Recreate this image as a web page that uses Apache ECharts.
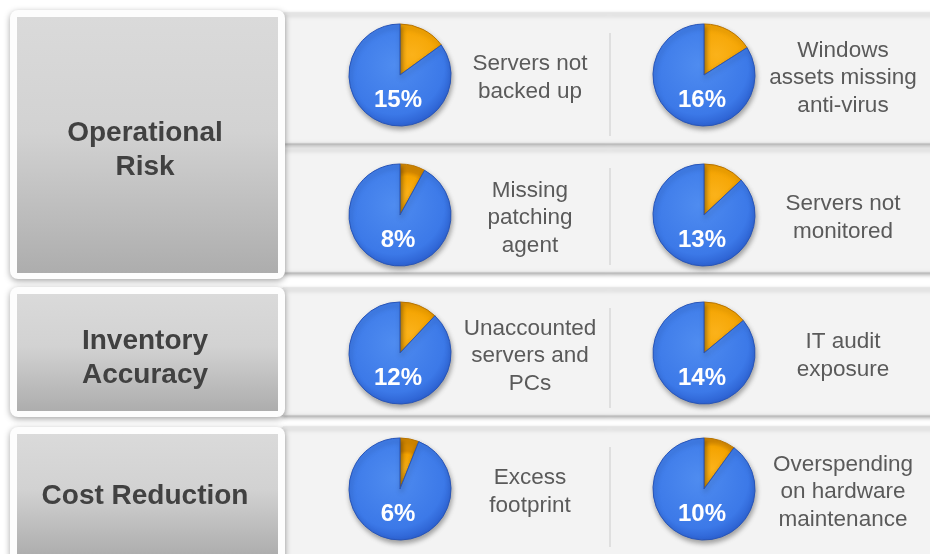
<!DOCTYPE html>
<html>
<head>
<meta charset="utf-8">
<style>
  html, body { margin: 0; padding: 0; background: #fff; }
  #chart { width: 930px; height: 554px; }
</style>
<script src="https://cdn.jsdelivr.net/npm/echarts@6/dist/echarts.min.js"></script>
</head>
<body>
<div id="chart"></div>
<script>
// data
const groups = ['Operational\nRisk', 'Inventory\nAccuracy', 'Cost Reduction'];
const metrics = [
    'Servers not\nbacked up', 'Windows\nassets missing\nanti-virus',
    'Missing\npatching\nagent', 'Servers not\nmonitored',
    'Unaccounted\nservers and\nPCs', 'IT audit\nexposure',
    'Excess\nfootprint', 'Overspending\non hardware\nmaintenance'
];
const shares = [15, 16, 8, 13, 12, 14, 6, 10];

(function () {
    let chart = echarts.init(document.querySelector('#chart'));

    const font = '"Liberation Sans", Arial, sans-serif';

    // layout
    const rowTop = [13, 148, 288, 427];
    const rowBottom = [143, 272, 415, 570];
    const pieY = [75, 215, 353, 489];
    const pieX = [400, 704];
    const textX = [530, 843];
    const boxY = [[10, 279], [287, 417], [427, 562]];
    const radius = 51;

    let graphic = [];

    // right hand row panels
    rowTop.forEach((top, r) => {
        graphic.push({
            type: 'rect', z: 0,
            shape: { x: 283, y: top, width: 660, height: rowBottom[r] - top },
            style: {
                fill: '#f3f3f3', stroke: '#e2e2e2', lineWidth: 1,
                shadowBlur: 4, shadowOffsetY: 2, shadowColor: 'rgba(0,0,0,0.35)'
            }
        });
        graphic.push({
            type: 'line', z: 1,
            shape: { x1: 610, y1: top + 20, x2: 610, y2: Math.min(rowBottom[r], 554) - 7 },
            style: { stroke: '#d8d8d8', lineWidth: 1.5 }
        });
    });

    // left hand category boxes
    groups.forEach((name, i) => {
        let [y0, y1] = boxY[i];
        graphic.push({
            type: 'rect', z: 2,
            shape: { x: 10, y: y0, width: 275, height: y1 - y0, r: 8 },
            style: {
                fill: '#fdfdfd',
                shadowBlur: 6, shadowOffsetY: 2, shadowColor: 'rgba(0,0,0,0.35)'
            }
        });
        graphic.push({
            type: 'rect', z: 3,
            shape: { x: 17, y: y0 + 7, width: 261, height: y1 - y0 - 13 },
            style: {
                fill: new echarts.graphic.LinearGradient(0, 0, 0, 1, [
                    { offset: 0, color: '#dadada' },
                    { offset: 0.45, color: '#d2d2d2' },
                    { offset: 1, color: '#adadad' }
                ])
            }
        });
        graphic.push({
            type: 'text', z: 4,
            style: {
                text: name, x: 145, y: (y0 + Math.min(y1, 554)) / 2 + 6,
                align: 'center', verticalAlign: 'middle',
                font: 'bold 28px ' + font, lineHeight: 34, fill: '#414141'
            }
        });
    });

    // pies
    let series = [];
    shares.forEach((v, i) => {
        let r = Math.floor(i / 2), c = i % 2;
        series.push({
            type: 'pie',
            center: [pieX[c], pieY[r]],
            radius: radius,
            startAngle: 90,
            clockwise: true,
            silent: true,
            animation: false,
            label: { show: false },
            labelLine: { show: false },
            itemStyle: {
                shadowBlur: 5, shadowOffsetX: 1, shadowOffsetY: 3,
                shadowColor: 'rgba(0,0,0,0.35)'
            },
            data: [
                {
                    value: v, name: 'share',
                    itemStyle: {
                        color: new echarts.graphic.RadialGradient(0.3, 0.6, 0.9, [
                            { offset: 0, color: '#fbb21a' },
                            { offset: 0.8, color: '#f4a300' },
                            { offset: 1, color: '#d68900' }
                        ]),
                        borderColor: '#b87400', borderWidth: 1
                    }
                },
                {
                    value: 100 - v, name: 'rest',
                    itemStyle: {
                        color: new echarts.graphic.RadialGradient(0.45, 0.4, 0.6, [
                            { offset: 0, color: '#4f8cf0' },
                            { offset: 0.8, color: '#3c79e8' },
                            { offset: 1, color: '#2d62d2' }
                        ]),
                        borderColor: '#2855b8', borderWidth: 1
                    }
                }
            ]
        });
        graphic.push({
            type: 'text', z: 100,
            style: {
                text: v + '%', x: pieX[c] - 2, y: pieY[r] + 25,
                align: 'center', verticalAlign: 'middle',
                font: 'bold 24px ' + font, fill: '#ffffff',
                shadowBlur: 2, shadowColor: 'rgba(0,0,0,0.25)'
            }
        });
        graphic.push({
            type: 'text', z: 100,
            style: {
                text: metrics[i], x: textX[c], y: pieY[r] + 3,
                align: 'center', verticalAlign: 'middle',
                font: '22.5px ' + font, lineHeight: 27.5, fill: '#5a5a5a'
            }
        });
    });

    let option = {
        backgroundColor: '#ffffff',
        graphic: graphic,
        series: series
    };

    chart.setOption(option);
})();
</script>
</body>
</html>
